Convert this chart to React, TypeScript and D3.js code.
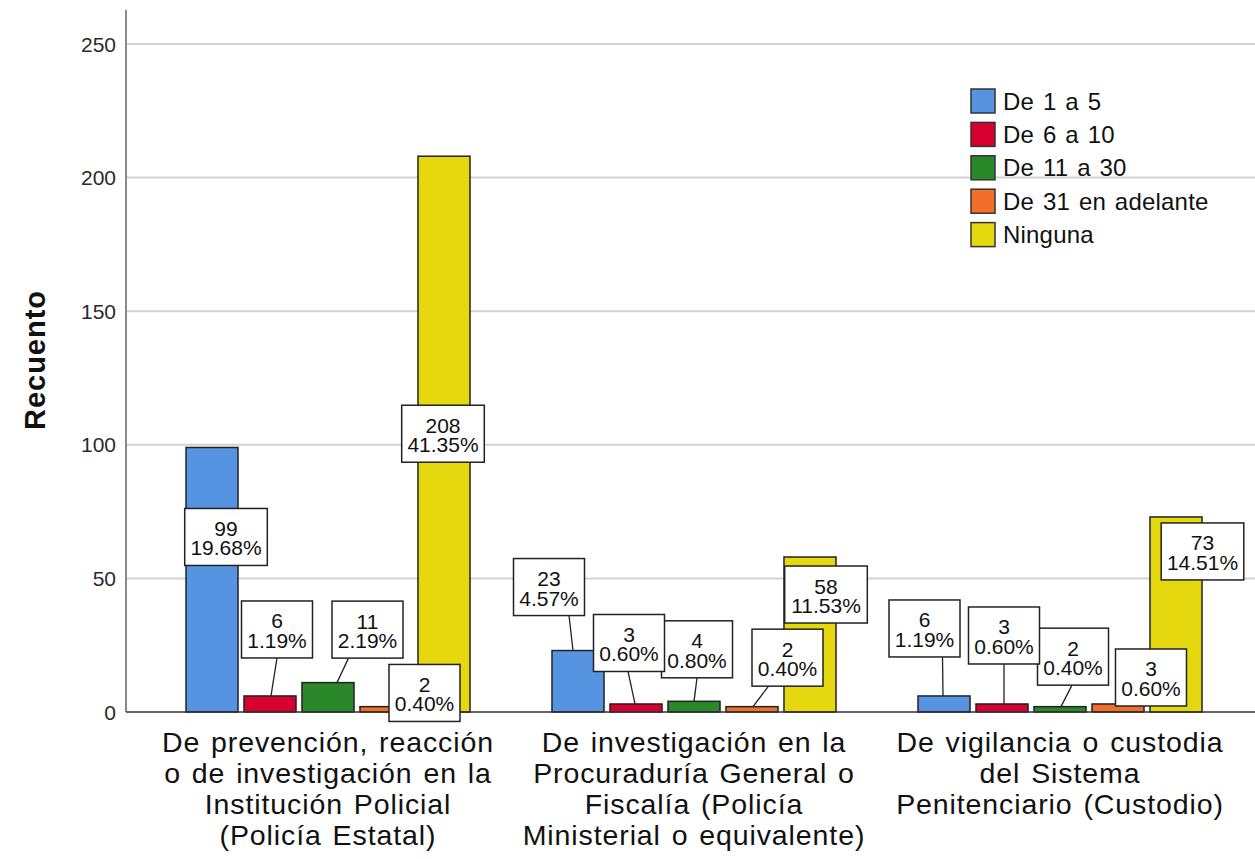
import React from "react";
import * as d3 from "d3";

const categoryLines: string[][] = [
  ["De prevención, reacción", "o de investigación en la", "Institución Policial", "(Policía Estatal)"],
  ["De investigación en la", "Procuraduría General o", "Fiscalía (Policía", "Ministerial o equivalente)"],
  ["De vigilancia o custodia", "del Sistema", "Penitenciario (Custodio)"],
];
const categories = ["cat1", "cat2", "cat3"];

const seriesNames = ["De 1 a 5", "De 6 a 10", "De 11 a 30", "De 31 en adelante", "Ninguna"];
const seriesColors = ["#5694e2", "#d8002f", "#2a882a", "#f26f2a", "#e5d80e"];

const countsDe1a5 = [99, 23, 6];
const countsDe6a10 = [6, 3, 3];
const countsDe11a30 = [11, 4, 2];
const countsDe31 = [2, 2, 3];
const countsNinguna = [208, 58, 73];
const seriesCounts = [countsDe1a5, countsDe6a10, countsDe11a30, countsDe31, countsNinguna];

const pctDe1a5 = ["19.68%", "4.57%", "1.19%"];
const pctDe6a10 = ["1.19%", "0.60%", "0.60%"];
const pctDe11a30 = ["2.19%", "0.80%", "0.40%"];
const pctDe31 = ["0.40%", "0.40%", "0.60%"];
const pctNinguna = ["41.35%", "11.53%", "14.51%"];
const seriesPct = [pctDe1a5, pctDe6a10, pctDe11a30, pctDe31, pctNinguna];

const yTicks = [0, 50, 100, 150, 200, 250];

// Label layout: [dx from bar centre, dy from bar top, leader?, leader x on box, leader x on bar]
type LL = [number, number, boolean, number, number];
const labelLayout: LL[][] = [
  [[14, 89.5, false, 0, 0], [-29, -63.5, true, 20, -5], [-19.5, -67.5, true, 18, -1]],
  [[7, -66.5, true, 0, 1], [-7, -61, true, -1, -1], [2, -68.5, true, 0, 2]],
  [[39.5, -53, true, -19, 9], [3, -52, true, 0, 0], [13, -50, true, -1, 1]],
  [[38.5, -13.7, false, 0, 0], [35.5, -49, true, -19, 1], [33, -26.5, false, 0, 0]],
  [[-1, 277.5, false, 0, 0], [16, 37.5, false, 0, 0], [26.5, 34.5, false, 0, 0]],
];

const W = 1255;
const H = 859;
const FONT = "'Liberation Sans', Arial, sans-serif";

export default function App() {
  const y = d3.scaleLinear().domain([0, 250]).range([712, 44]);
  const yTop = 262.7;
  const axisX = 126;
  const x0 = d3
    .scaleBand<string>()
    .domain(categories)
    .range([145, 1243])
    .paddingInner(0.224)
    .paddingOuter(0.112);
  const x1 = d3
    .scaleBand<string>()
    .domain(seriesNames)
    .range([0, x0.bandwidth()])
    .paddingInner(0.103)
    .paddingOuter(0);

  const bars: React.ReactNode[] = [];
  const leaders: React.ReactNode[] = [];
  const labels: React.ReactNode[] = [];

  seriesNames.forEach((s, si) => {
    categories.forEach((c, ci) => {
      const v = seriesCounts[si][ci];
      const bx = (x0(c) ?? 0) + (x1(s) ?? 0);
      const bw = x1.bandwidth();
      const top = y(v);
      bars.push(
        <rect
          key={`b-${si}-${ci}`}
          x={bx}
          y={top}
          width={bw}
          height={y(0) - top}
          fill={seriesColors[si]}
          stroke="#222"
          strokeWidth={1.5}
        />
      );
    });
  });

  for (let si = seriesNames.length - 1; si >= 0; si--) {
    const s = seriesNames[si];
    categories.forEach((c, ci) => {
      const v = seriesCounts[si][ci];
      const pct = seriesPct[si][ci];
      const bx = (x0(c) ?? 0) + (x1(s) ?? 0);
      const bcx = bx + x1.bandwidth() / 2;
      const top = y(v);
      const [dx, dy, hasLeader, lb, lt] = labelLayout[si][ci];
      const cx = bcx + dx;
      const cy = top + dy;
      const chars = Math.max(String(v).length, pct.length);
      const bw = 13 + chars * 11.6;
      const bh = 57;
      if (hasLeader) {
        leaders.push(
          <line
            key={`l-${si}-${ci}`}
            x1={cx + lb}
            y1={cy + bh / 2}
            x2={bcx + lt}
            y2={top}
            stroke="#222"
            strokeWidth={1.3}
          />
        );
      }
      labels.push(
        <g key={`t-${si}-${ci}`}>
          <rect
            x={cx - bw / 2}
            y={cy - bh / 2}
            width={bw}
            height={bh}
            fill="#fff"
            stroke="#222"
            strokeWidth={1.5}
          />
          <text textAnchor="middle" fontSize={21} fill="#111" fontFamily={FONT}>
            <tspan x={cx} y={cy - 1}>
              {v}
            </tspan>
            <tspan x={cx} y={cy + 18.5}>
              {pct}
            </tspan>
          </text>
        </g>
      );
    });
  }

  return (
    <div style={{ position: "absolute", left: 0, top: 0 }}>
      <svg width={W} height={H} style={{ display: "block", background: "#fff" }}>
        {/* gridlines */}
        {yTicks
          .filter((t) => t > 0)
          .map((t) => (
            <line key={`g-${t}`} x1={axisX} x2={W} y1={y(t)} y2={y(t)} stroke="#d2d2d2" strokeWidth={2} />
          ))}
        {/* tick labels */}
        {yTicks.map((t) => (
          <text
            key={`yt-${t}`}
            x={116}
            y={y(t)}
            dy="0.36em"
            textAnchor="end"
            fontSize={21}
            fill="#2a2a2a"
            fontFamily={FONT}
          >
            {t}
          </text>
        ))}
        {/* y axis title */}
        <text
          transform={`translate(45, ${(288 + 432) / 2}) rotate(-90)`}
          textAnchor="middle"
          fontSize={29}
          fontWeight="bold"
          letterSpacing={1}
          fill="#111"
          fontFamily={FONT}
        >
          Recuento
        </text>
        {bars}
        {/* axes */}
        <line x1={axisX} x2={axisX} y1={y(yTop)} y2={y(0)} stroke="#8a8a8a" strokeWidth={2} />
        <line x1={axisX} x2={W} y1={y(0)} y2={y(0)} stroke="#333" strokeWidth={1.5} />
        {leaders}
        {labels}
        {/* category labels */}
        {categories.map((c, ci) => {
          const cx = (x0(c) ?? 0) + x0.bandwidth() / 2;
          return (
            <text
              key={`c-${ci}`}
              textAnchor="middle"
              fontSize={28.5}
              letterSpacing={0.9}
              wordSpacing={2}
              fill="#111"
              fontFamily={FONT}
            >
              {categoryLines[ci].map((ln, li) => (
                <tspan key={li} x={cx} y={752 + li * 31}>
                  {ln}
                </tspan>
              ))}
            </text>
          );
        })}
        {/* legend */}
        {seriesNames.map((s, si) => {
          const ly = 101 + si * 33.4;
          return (
            <g key={`lg-${si}`}>
              <rect
                x={971}
                y={ly - 12}
                width={24}
                height={24}
                fill={seriesColors[si]}
                stroke="#333"
                strokeWidth={1.5}
              />
              <text
                x={1003}
                y={ly}
                dy="0.36em"
                fontSize={24}
                letterSpacing={0.2}
                wordSpacing={2}
                fill="#111"
                fontFamily={FONT}
              >
                {s}
              </text>
            </g>
          );
        })}
      </svg>
    </div>
  );
}
